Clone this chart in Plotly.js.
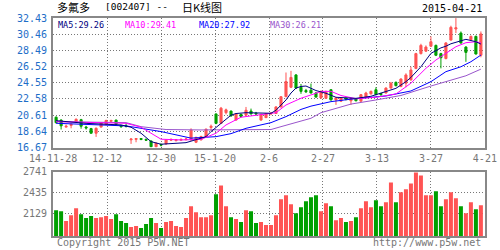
<!DOCTYPE html>
<html><head><meta charset="utf-8">
<script src="https://cdn.plot.ly/plotly-3.0.1.min.js"></script>
<style>html,body{margin:0;padding:0;background:#fff;}#chart{width:500px;height:250px;}</style>
</head><body><div id="chart"></div>
<script>
// ---- data ----
const tickLabels = ["14-11-28","12-12","12-30","15-1-20","2-6","2-27","3-13","3-27","4-21"];
const priceTicks = [16.67,18.64,20.61,22.58,24.55,26.52,28.49,30.46,32.43];
const volTicks = [2129,2435,2741];

const openP = [20.35,20.0,19.15,19.35,19.7,20.05,19.15,18.96,18.4,19.15,19.5,19.85,20.0,19.35,19.3,17.6,17.65,17.75,17.65,17.46,16.75,17.05,17.1,17.55,17.5,17.55,17.6,17.6,17.3,17.6,18.0,19.1,20.75,19.6,20.9,21.1,20.0,20.7,20.6,21.1,20.85,20.0,20.3,20.75,20.8,21.6,22.85,24.0,25.5,24.0,23.6,23.65,23.3,22.7,22.65,23.7,22.45,22.3,22.65,22.35,22.6,22.3,22.8,23.2,23.7,23.25,23.3,23.9,24.6,24.1,24.5,24.9,26.3,28.1,28.4,29.0,29.1,28.1,27.5,29.75,31.1,30.6,28.9,29.8,30.2,27.9];
const highP = [20.45,20.1,19.45,19.55,20.2,20.15,19.3,19.05,19.1,19.75,20.05,20.05,20.05,19.4,19.6,17.75,17.75,17.8,17.75,17.5,17.25,17.1,17.6,17.75,17.7,17.75,17.85,19.0,17.95,18.1,18.95,19.45,20.8,21.6,21.4,21.15,20.8,20.75,21.6,21.4,21.0,20.75,20.85,20.95,21.7,22.9,25.8,26.0,25.6,24.4,23.8,24.45,23.4,23.6,23.6,23.75,22.75,22.75,22.75,22.7,22.65,23.15,23.45,23.6,24.0,23.3,24.0,24.65,24.7,25.1,25.7,26.5,28.2,29.3,29.1,30.2,29.2,28.2,29.5,31.5,32.43,30.8,29.0,30.3,30.3,30.8];
const lowP = [19.6,18.85,19.1,19.0,19.65,18.95,18.85,18.35,17.95,19.1,19.45,19.8,19.45,19.05,19.1,17.1,17.3,17.55,17.5,16.7,16.67,16.8,17.0,17.45,17.4,17.5,17.55,17.5,17.2,17.5,17.95,18.7,19.5,19.55,20.7,20.45,19.95,20.35,20.55,20.7,20.55,19.95,20.25,20.6,20.75,21.55,22.8,23.9,23.8,23.2,23.3,23.25,22.75,22.6,22.6,22.4,21.85,22.25,22.4,21.85,22.3,22.25,22.75,23.1,23.05,22.95,23.25,23.85,24.1,24.0,24.0,24.8,26.2,28.0,28.3,28.9,27.8,26.3,27.4,29.7,30.6,29.3,27.1,29.7,28.0,27.65];
const closeP = [19.69,19.3,19.25,19.5,20.1,19.25,19.05,18.4,19.0,19.69,19.95,19.95,19.5,19.2,19.25,17.7,17.75,17.65,17.55,16.75,17.2,16.95,17.58,17.65,17.6,17.65,17.7,18.8,17.9,18.0,18.9,19.25,19.6,21.45,21.25,20.5,20.75,20.45,21.2,20.75,20.75,20.7,20.8,20.85,21.6,22.85,24.7,25.2,23.9,23.5,23.45,23.3,22.8,23.5,23.45,22.45,22.7,22.7,22.55,22.6,22.35,23.1,23.3,23.5,23.1,23.1,23.9,24.5,24.2,25.0,25.5,26.1,28.1,29.1,28.9,29.55,27.9,27.6,29.4,31.3,31.25,29.4,28.25,30.2,28.05,30.5];

const volume = [2177,2162,2017,2104,2206,2119,2061,2090,2061,2075,2090,2046,2119,2017,1988,1929,1944,1915,1973,2061,1988,1915,2002,2017,1944,1929,2061,2235,2148,2075,2075,2104,2410,2541,2235,2075,2046,2002,2177,2162,1988,2002,1958,1958,2104,2337,2395,2264,2133,2221,2308,2366,2395,2162,2279,2235,2031,2061,2002,2017,2075,2206,2308,2221,2323,2235,2293,2585,2293,2439,2483,2570,2730,2687,2395,2395,2454,2235,2337,2439,2352,2235,2133,2293,2192,2250];
const volUp = [0,0,1,1,1,0,0,0,1,1,1,1,0,0,0,1,1,0,0,0,1,0,1,1,1,1,1,1,1,1,1,1,0,1,1,0,1,0,1,0,0,1,1,1,1,1,1,1,0,0,0,0,0,1,1,0,1,1,0,1,0,1,1,1,0,0,1,1,0,1,1,1,1,1,1,1,0,0,1,1,1,0,1,1,0,1];

// moving-average lines, sampled at candle indices (0-based)
const ma5Idx = [0,6,13,15,17,19,21,26,29,30,31,32,33,34,35,36,38,43,44,46,47,48,49,50,51,52,54,56,59,60,63,66,68,70,71,73,75,77,78,79,80,82,84,85];
const ma5Val = [19.93,19.6,19.41,19.13,18.4,17.37,17.06,17.25,17.8,17.98,18.6,19.1,19.7,20.2,20.6,20.8,20.9,20.83,21.2,22.45,23.3,23.9,24.1,24.15,23.85,23.6,23.27,22.78,22.68,22.65,22.9,23.46,23.87,24.68,25.2,26.5,28.13,28.8,29.0,29.3,29.5,29.84,29.55,29.26];
const ma10Idx = [0,14,17,21,25,29,32,34,37,43,44,46,49,52,53,55,57,60,64,68,71,74,76,78,80,82,84,85];
const ma10Val = [19.81,19.61,19.13,17.67,17.58,17.65,18.4,19.41,20.35,20.75,20.9,21.84,22.66,23.27,23.5,23.5,23.0,22.6,22.78,23.18,24.5,26.31,27.32,28.13,28.94,29.43,29.55,29.41];
const ma20Idx = [0,14,17,21,27,32,35,38,43,46,49,51,55,59,66,71,75,78,81,83,85];
const ma20Val = [19.61,19.29,19.0,18.6,17.8,17.98,18.35,19.0,19.69,20.42,21.3,21.7,22.25,22.55,22.94,23.55,24.68,25.9,26.5,27.11,27.92];
const ma30Idx = [0,14,17,22,29,39,43,45,48,51,53,55,59,64,69,75,79,82,85];
const ma30Val = [19.81,19.69,19.2,18.85,18.8,18.8,18.85,19.2,19.69,20.22,20.9,21.23,21.95,22.45,23.0,24.15,24.85,25.4,26.21];

const maNames = ["MA5:29.26","MA10:29.41","MA20:27.92","MA30:26.21"];

// ---- styling ----
const RED = "#FF5454", GREEN = "#00A000";
const MA_COLORS = ["#000080","#FF00FF","#0000FF","#9955CC"];
const MONO = "DejaVu Sans Mono, monospace";
const CJK = "Noto Sans CJK SC, sans-serif";

const idx = openP.map((_, i) => i);
const tickPos = tickLabels.map((_, j) => -0.6 + 10.8 * j);

const traces = [
  {type: "candlestick", x: idx, open: openP, high: highP, low: lowP, close: closeP,
   xaxis: "x", yaxis: "y", whiskerwidth: 0, hoverinfo: "skip",
   increasing: {line: {color: RED, width: 1}, fillcolor: RED},
   decreasing: {line: {color: GREEN, width: 1}, fillcolor: GREEN}},
  {type: "scatter", mode: "lines", x: ma30Idx, y: ma30Val, line: {color: MA_COLORS[3], width: 1}, xaxis: "x", yaxis: "y"},
  {type: "scatter", mode: "lines", x: ma20Idx, y: ma20Val, line: {color: MA_COLORS[2], width: 1}, xaxis: "x", yaxis: "y"},
  {type: "scatter", mode: "lines", x: ma10Idx, y: ma10Val, line: {color: MA_COLORS[1], width: 1}, xaxis: "x", yaxis: "y"},
  {type: "scatter", mode: "lines", x: ma5Idx, y: ma5Val, line: {color: MA_COLORS[0], width: 1}, xaxis: "x", yaxis: "y"},
  {type: "bar", x: idx, y: volume, width: 0.8, xaxis: "x2", yaxis: "y2",
   marker: {color: volUp.map(u => u ? RED : GREEN), line: {width: 0}}}
];

const L = 53, R = 485, T = 18, B = 236;
const px = x => (x - L) / (R - L);
const py = y => (B - y) / (B - T);

const axisCommon = {
  showline: true, mirror: true, linecolor: "#888", linewidth: 2,
  showgrid: true, gridcolor: "#777", gridwidth: 1, griddash: "1px,2px",
  zeroline: false, ticks: "", fixedrange: true
};

const annotations = [
  {text: "多氟多", x: px(55), y: py(7), font: {family: CJK, size: 11, color: "#000"}},
  {text: "[002407] --", x: px(103), y: py(7), font: {family: MONO, size: 9.5, color: "#000"}},
  {text: "日K线图", x: px(180), y: py(7), font: {family: CJK, size: 11, color: "#000"}},
  {text: "2015-04-21", x: px(484), y: py(8), xanchor: "right", font: {family: MONO, size: 10, color: "#000"}},
  {text: maNames[0], x: px(56), y: py(25), font: {family: MONO, size: 8.5, color: MA_COLORS[0]}},
  {text: maNames[1], x: px(123), y: py(25), font: {family: MONO, size: 8.5, color: MA_COLORS[1]}},
  {text: maNames[2], x: px(197), y: py(25), font: {family: MONO, size: 8.5, color: MA_COLORS[2]}},
  {text: maNames[3], x: px(268), y: py(25), font: {family: MONO, size: 8.5, color: MA_COLORS[3]}},
  {text: "Copyright 2015 P5W.NET", x: px(55), y: py(242), font: {family: MONO, size: 10, color: "#777"}},
  {text: "http://www.p5w.net", x: px(483), y: py(242), xanchor: "right", font: {family: MONO, size: 10, color: "#777"}}
].map(a => Object.assign({xref: "paper", yref: "paper", showarrow: false, xanchor: "left", yanchor: "middle"}, a));

const layout = {
  width: 500, height: 250,
  margin: {l: L, r: 500 - R, t: T, b: 250 - B, pad: 0},
  paper_bgcolor: "#fff", plot_bgcolor: "#fff",
  showlegend: false, boxgap: 0.4, bargap: 0.2,
  xaxis: Object.assign({}, axisCommon, {domain: [0, 1], anchor: "y", range: [-0.62, 85.82],
    tickmode: "array", tickvals: tickPos, ticktext: tickLabels,
    tickfont: {family: MONO, size: 10, color: "#777"}, rangeslider: {visible: false}}),
  xaxis2: Object.assign({}, axisCommon, {domain: [0, 1], anchor: "y2", range: [-0.62, 85.82],
    tickmode: "array", tickvals: tickPos, showticklabels: false}),
  yaxis: Object.assign({}, axisCommon, {domain: [py(147.5), 1], anchor: "x", range: [16.66, 32.44],
    tickmode: "array", tickvals: priceTicks, ticktext: priceTicks.map(v => v.toFixed(2)),
    tickfont: {family: MONO, size: 10, color: "#1E6EC8"}, ticklabelstandoff: 2}),
  yaxis2: Object.assign({}, axisCommon, {domain: [0, py(171.7)], anchor: "x2", range: [1798, 2742],
    tickmode: "array", tickvals: volTicks, ticktext: volTicks.map(String),
    tickfont: {family: MONO, size: 10, color: "#777"}, ticklabelstandoff: 2}),
  annotations: annotations
};

Plotly.newPlot("chart", traces, layout, {staticPlot: true, displayModeBar: false});
</script>
</body></html>
